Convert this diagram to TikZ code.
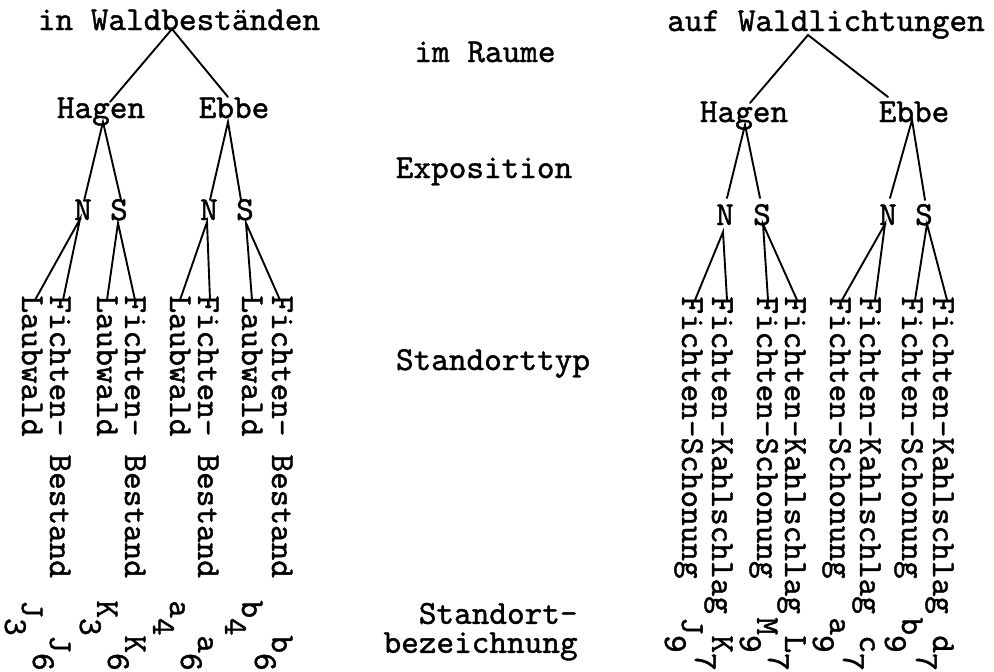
\documentclass[tikz,border=0pt]{standalone}
\usepackage{fontspec}
\newfontfamily\tw[FakeBold=1.2]{lmmono10-regular.otf}
\newcommand\lsub[1]{\raisebox{-8.5pt}{#1}}
\tikzset{
  tw/.style={inner sep=0pt, font=\tw\fontsize{16.8}{14.5}\selectfont},
  txt/.style={tw, anchor=base},
  leaf/.style={tw, rotate=-90, anchor=base west},
  conn/.style={line width=0.95pt, line cap=round}
}
\begin{document}
\begin{tikzpicture}[x=0.5pt,y=-0.5pt]
\useasboundingbox[fill=white] (0,0) rectangle (994,671);

% ---------- horizontal labels ----------
\node[txt] (rootL) at (179,30) {in Waldbeständen};
\node[txt] (rootR) at (826,31) {auf Waldlichtungen};
\node[txt] (raum) at (485,62) {im Raume};
\node[txt] (hagenL) at (101,118) {Hagen};
\node[txt] (ebbeL) at (234,118) {Ebbe};
\node[txt] (hagenR) at (744,122) {Hagen};
\node[txt] (ebbeR) at (914,122) {Ebbe};
\node[txt] (expo) at (484,178) {Exposition};
\node[txt] (NL1) at (83,220) {N};
\node[txt] (SL1) at (119,220) {S};
\node[txt] (NL2) at (209,220) {N};
\node[txt] (SL2) at (245,220) {S};
\node[txt] (NR1) at (725,225) {N};
\node[txt] (SR1) at (762,225) {S};
\node[txt] (NR2) at (888,225) {N};
\node[txt] (SR2) at (924,225) {S};
\node[txt] (typ) at (493,370) {Standorttyp};
\node[tw, align=right, anchor=north east] (bez) at (578,602.5) {Standort-\\bezeichnung};

% ---------- leaves (rotated) ----------
\node[leaf] (L1) at (22,295) {Laubwald};
\node[leaf] (L2) at (50,295) {Fichten-\hspace{9pt}Bestand};
\node[leaf] (L3) at (97,295) {Laubwald};
\node[leaf] (L4) at (125,295) {Fichten-\hspace{9pt}Bestand};
\node[leaf] (L5) at (170,295) {Laubwald};
\node[leaf] (L6) at (198,295) {Fichten-\hspace{9pt}Bestand};
\node[leaf] (L7) at (242,295) {Laubwald};
\node[leaf] (L8) at (272,295) {Fichten-\hspace{9pt}Bestand};

\node[leaf] (R1) at (682,296) {Fichten-Schonung};
\node[leaf] (R2) at (712,296) {Fichten-Kahlschlag};
\node[leaf] (R3) at (757,296) {Fichten-Schonung};
\node[leaf] (R4) at (785,296) {Fichten-Kahlschlag};
\node[leaf] (R5) at (830,296) {Fichten-Schonung};
\node[leaf] (R6) at (860,296) {Fichten-Kahlschlag};
\node[leaf] (R7) at (902,296) {Fichten-Schonung};
\node[leaf] (R8) at (933,296) {Fichten-Kahlschlag};

% ---------- site labels ----------
\node[leaf] (cL1) at (22,600) {J\lsub{3}};
\node[leaf] (cL2) at (50,635) {J\lsub{6}};
\node[leaf] (cL3) at (97,600) {K\lsub{3}};
\node[leaf] (cL4) at (125,635) {K\lsub{6}};
\node[leaf] (cL5) at (170,600) {a\lsub{4}};
\node[leaf] (cL6) at (198,635) {a\lsub{6}};
\node[leaf] (cL7) at (242,600) {b\lsub{4}};
\node[leaf] (cL8) at (272,635) {b\lsub{6}};

\node[leaf] (cR1) at (682,617) {J\lsub{9}};
\node[leaf] (cR2) at (712,635) {K\lsub{7}};
\node[leaf] (cR3) at (757,617) {M\lsub{9}};
\node[leaf] (cR4) at (785,635) {L\lsub{7}};
\node[leaf] (cR5) at (830,617) {a\lsub{9}};
\node[leaf] (cR6) at (860,635) {c\lsub{7}};
\node[leaf] (cR7) at (902,617) {b\lsub{9}};
\node[leaf] (cR8) at (933,635) {d\lsub{7}};

% ---------- junction points ----------
\coordinate (rL) at (172,29);  \coordinate (hLt) at (110,102); \coordinate (eLt) at (228,97);
\coordinate (hLb) at (103,122); \coordinate (hN) at (84,201);  \coordinate (hS) at (121,200);
\coordinate (eLb) at (228,122); \coordinate (eN) at (210,200);  \coordinate (eS) at (241,200);
\coordinate (nL1) at (80,219);  \coordinate (l1) at (35,300);  \coordinate (l2) at (63,300);
\coordinate (sL1) at (118,223); \coordinate (l3) at (107,300); \coordinate (l4) at (135,300);
\coordinate (nL2) at (207,222); \coordinate (l5) at (180,300); \coordinate (l6) at (210,300);
\coordinate (sL2) at (246,223); \coordinate (l7) at (252,300); \coordinate (l8) at (280,300);

\coordinate (rR) at (808,35);   \coordinate (hRt) at (750,103); \coordinate (eRt) at (888,97);
\coordinate (hRb) at (745,125); \coordinate (hRN) at (727,198); \coordinate (hRS) at (760,198);
\coordinate (eRb) at (912,120); \coordinate (eRN) at (890,198); \coordinate (eRS) at (925,200);
\coordinate (nR1) at (723,232); \coordinate (r1) at (695,300); \coordinate (r2) at (727,300);
\coordinate (sR1) at (763,224); \coordinate (r3) at (768,300); \coordinate (r4) at (797,300);
\coordinate (nR2) at (885,224); \coordinate (r5) at (842,300); \coordinate (r6) at (875,300);
\coordinate (sR2) at (927,224); \coordinate (r7) at (915,300); \coordinate (r8) at (947,300);

% ---------- connectors ----------
\draw[conn] (hLt) -- (rL) -- (eLt);
\draw[conn] (hN) -- (hLb) -- (hS);
\draw[conn] (eN) -- (eLb) -- (eS);
\draw[conn] (l1) -- (nL1) -- (l2);
\draw[conn] (l3) -- (sL1) -- (l4);
\draw[conn] (l5) -- (nL2) -- (l6);
\draw[conn] (l7) -- (sL2) -- (l8);

\draw[conn] (hRt) -- (rR) -- (eRt);
\draw[conn] (hRN) -- (hRb) -- (hRS);
\draw[conn] (eRN) -- (eRb) -- (eRS);
\draw[conn] (r1) -- (nR1) -- (r2);
\draw[conn] (r3) -- (sR1) -- (r4);
\draw[conn] (r5) -- (nR2) -- (r6);
\draw[conn] (r7) -- (sR2) -- (r8);
\end{tikzpicture}
\end{document}
